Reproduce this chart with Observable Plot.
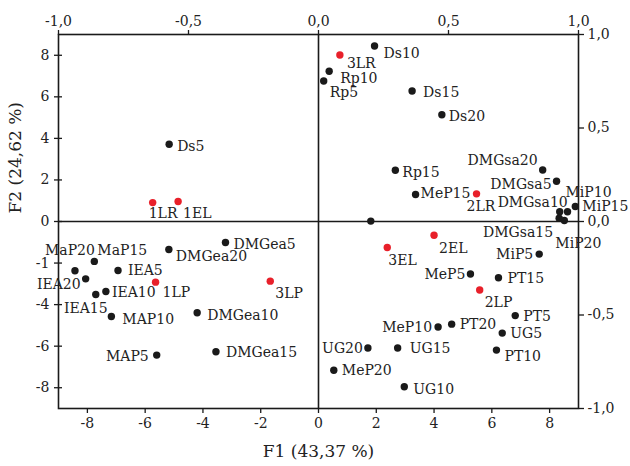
<!DOCTYPE html>
<html>
<head>
<meta charset="utf-8">
<script src="https://cdn.jsdelivr.net/npm/d3@7"></script>
<script src="https://cdn.jsdelivr.net/npm/@observablehq/plot@0.6"></script>
<style>
  html, body { margin: 0; padding: 0; background: #fff; }
  #chart svg { display: block; }
</style>
</head>
<body>
<div id="chart"></div>
<script>
// ---- Data (scores on F1 / F2) ----
const names = ["Ds5","1LR","1EL","Ds10","3LR","Rp10","Rp5","Ds15","Ds20","Rp15","MeP15","2LR",
  "DMGsa20","DMGsa5","MiP15","MiP10","DMGsa10","DMGsa15","MiP20","","2EL","3EL","MiP5","MeP5",
  "PT15","2LP","PT5","PT20","MeP10","UG5","UG20","UG15","PT10","MeP20","UG10","DMGea5","DMGea20",
  "MaP15","MaP20","IEA5","IEA20","1LP","3LP","IEA10","IEA15","MAP10","DMGea10","MAP5","DMGea15"];
const f1 = [-5.17,-5.74,-4.86,1.94,0.74,0.37,0.18,3.24,4.27,2.66,3.36,5.47,
  7.76,8.24,8.89,8.62,8.35,8.33,8.51,1.81,4.00,2.38,7.64,5.26,
  6.23,5.58,6.81,4.61,4.14,6.36,1.71,2.74,6.16,0.53,2.97,-3.22,-5.18,
  -7.76,-8.43,-6.94,-8.06,-5.64,-1.67,-7.36,-7.71,-7.17,-4.20,-5.60,-3.55];
const f2 = [3.72,0.91,0.96,8.45,8.01,7.23,6.76,6.28,5.14,2.47,1.30,1.33,
  2.48,1.94,0.72,0.47,0.47,0.16,0.05,0.02,-0.66,-1.25,-1.57,-2.53,
  -2.71,-3.30,-4.53,-4.94,-5.08,-5.37,-6.09,-6.09,-6.19,-7.16,-7.95,-1.01,-1.35,
  -1.92,-2.37,-2.36,-2.76,-2.92,-2.87,-3.37,-3.51,-4.57,-4.39,-6.43,-6.27];
const samples = ["1LR","1EL","3LR","2LR","2EL","3EL","1LP","2LP","3LP"];

// ---- Axis ticks ----
const xTicks = [-8,-6,-4,-2,0,2,4,6,8];
const yTicks = [8,6,4,2,0,-2,-4,-6,-8];
const yTickLabels = ["8","6","4","2","0","-1","-4","-6","-8"];
const corrTicks = [-1,-0.5,0,0.5,1];
const corrLabels = ["-1,0","-0,5","0,0","0,5","1,0"];
const corrScale = 9; // correlation circle (-1..1) drawn over score range (-9..9)

// ---- Label placement: [textAnchor, dx, dy] ----
const place = {
  "Ds5":["start",8,2],"1LR":["start",-4,11],"1EL":["start",5,12],"Ds10":["start",9,8],
  "3LR":["start",7,8],"Rp10":["start",11,7],"Rp5":["start",6,11],"Ds15":["start",11,2],
  "Ds20":["start",7,2],"Rp15":["start",7,2],"MeP15":["start",5,-1],"2LR":["start",-10,13],
  "DMGsa20":["end",-5,-9],"DMGsa5":["end",-5,3],"MiP15":["start",7,0],"MiP10":["start",-2,-19],
  "DMGsa10":["end",8,-9],"DMGsa15":["end",-6,14],"MiP20":["start",-9,23],"2EL":["start",5,13],
  "3EL":["start",1,13],"MiP5":["end",-6,0],"MeP5":["end",-5,0],"PT15":["start",9,1],
  "2LP":["start",5,12],"PT5":["start",8,1],"PT20":["start",8,0],"MeP10":["end",-6,0],
  "UG5":["start",8,0],"UG20":["end",-5,0],"UG15":["start",12,0],"PT10":["start",8,6],
  "MeP20":["start",8,0],"UG10":["start",9,3],"DMGea5":["start",8,2],"DMGea20":["start",7,7],
  "MaP20":["middle",-5,-20],"MaP15":["start",3,-11],"IEA5":["start",10,0],"IEA20":["end",-5,6],
  "1LP":["start",7,10],"3LP":["start",5,12],"IEA10":["start",6,1],"IEA15":["middle",-10,14],
  "MAP10":["start",11,3],"DMGea10":["start",10,3],"MAP5":["end",-8,1],"DMGea15":["start",10,1]
};

const data = names.map((n, i) => ({name: n, f1: f1[i], f2: f2[i], red: samples.includes(n)}));

const FONT = "DejaVu Serif";
const INK = "#1a1a1a";

const labelMarks = data.filter(d => d.name !== "").map(d => {
  const [anchor, dx, dy] = place[d.name];
  return Plot.text([d], {x: "f1", y: "f2", text: "name", textAnchor: anchor, dx, dy,
    fontSize: 14, fill: "#222"});
});

const chart = Plot.plot({
  width: 630,
  height: 466,
  marginLeft: 58,
  marginRight: 52,
  marginTop: 34,
  marginBottom: 58,
  style: {fontFamily: FONT, background: "#fff", color: "#222"},
  x: {domain: [-9, 9]},
  y: {domain: [-9, 9]},
  marks: [
    Plot.ruleX([0], {stroke: INK, strokeWidth: 1.6}),
    Plot.ruleY([0], {stroke: INK, strokeWidth: 1.6}),
    Plot.frame({stroke: INK, strokeWidth: 1.6}),
    Plot.axisX({anchor: "bottom", ticks: xTicks, tickFormat: d => String(d), tickSize: 5,
      tickPadding: 5, fontSize: 14, label: null, stroke: INK, strokeWidth: 1.3}),
    Plot.axisX({anchor: "top", ticks: corrTicks.map(v => v * corrScale),
      tickFormat: (d, i) => corrLabels[i], tickSize: 5, tickPadding: 4, fontSize: 14, label: null,
      stroke: INK, strokeWidth: 1.3}),
    // left ticks crossing the frame
    Plot.axisY({anchor: "left", ticks: yTicks, tickSize: 8, dx: 4, tickFormat: () => "",
      label: null, stroke: INK, strokeWidth: 1.3}),
    Plot.axisY({anchor: "left", ticks: yTicks, tickFormat: (d, i) => yTickLabels[i],
      tickSize: 0, tickPadding: 9, fontSize: 14, label: null}),
    Plot.axisY({anchor: "right", ticks: corrTicks.map(v => v * corrScale),
      tickFormat: (d, i) => corrLabels[i], tickSize: 5, tickPadding: 4, fontSize: 14, label: null,
      stroke: INK, strokeWidth: 1.3}),
    Plot.text(["F1 (43,37 %)"], {frameAnchor: "bottom", dy: 48, fontSize: 17, fill: "#222"}),
    Plot.text(["F2 (24,62 %)"], {frameAnchor: "left", rotate: -90, dx: -43, dy: -8, fontSize: 17, fill: "#222"}),
    Plot.dot(data, {x: "f1", y: "f2", r: 3.7, fill: d => d.red ? "#e8202a" : INK, stroke: null}),
    ...labelMarks
  ]
});

document.getElementById("chart").appendChild(chart);
</script>
</body>
</html>
